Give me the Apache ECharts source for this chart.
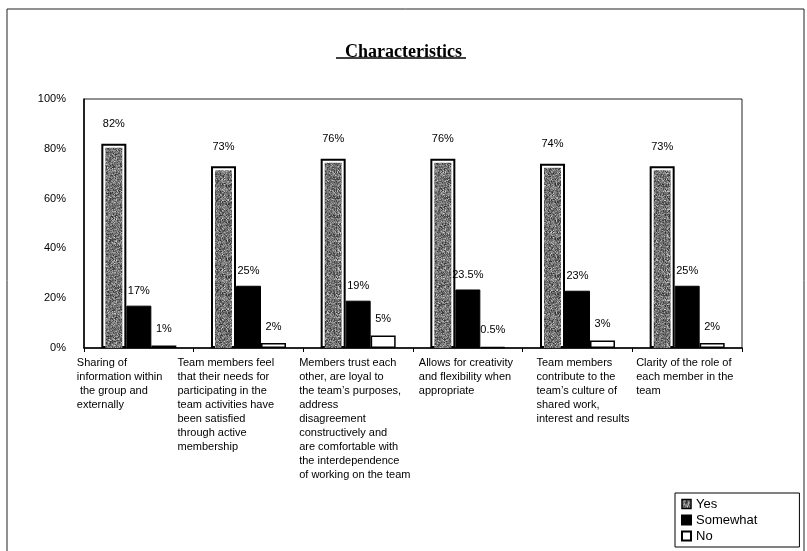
<!DOCTYPE html>
<html>
<head>
<meta charset="utf-8">
<title>Characteristics</title>
<script src="https://cdn.jsdelivr.net/npm/echarts@6/dist/echarts.min.js"></script>
<style>
  html, body { margin: 0; padding: 0; background: #fff; }
  #miGrafica { width: 807px; height: 551px; }
</style>
</head>
<body>
<div id="miGrafica"></div>
<script>
// Datos de la gráfica
var categorias = [
    'Sharing of\ninformation within\n the group and\nexternally',
    'Team members feel\nthat their needs for\nparticipating in the\nteam activities have\nbeen satisfied\nthrough active\nmembership',
    'Members trust each\nother, are loyal to\nthe team\u2019s purposes,\naddress\ndisagreement\nconstructively and\nare comfortable with\nthe interdependence\nof working on the team',
    'Allows for creativity\nand flexibility when\nappropriate',
    'Team members\ncontribute to the\nteam\u2019s culture of\nshared work,\ninterest and results',
    'Clarity of the role of\neach member in the\nteam'
];
var yes = [82, 73, 76, 76, 74, 73];
var somewhat = [17, 25, 19, 23.5, 23, 25];
var no = [1, 2, 5, 0.5, 3, 2];
var ticksY = [0, 20, 40, 60, 80, 100];

// distancia (px) del centro de la categoría al borde izquierdo de su etiqueta
var sangriaEtiqueta = [62, 71, 59, 49, 41, 51];

var fuente = "'Liberation Sans', Arial, sans-serif";

// textura punteada gris para la serie "Yes"
function textura() {
    var c = document.createElement('canvas');
    c.width = 40; c.height = 40;
    var ctx = c.getContext('2d');
    ctx.fillStyle = '#8a8a8a';
    ctx.fillRect(0, 0, 40, 40);
    var s = 12345;
    for (var x = 0; x < 40; x++) {
        for (var y = 0; y < 40; y++) {
            s = (s * 1103515245 + 12345) % 2147483648;
            var r = s / 2147483648;
            if (r < 0.45) {
                ctx.fillStyle = r < 0.2 ? '#2e2e2e' : '#555555';
                ctx.fillRect(x, y, 1, 1);
            } else if (r > 0.88) {
                ctx.fillStyle = '#d4d4d4';
                ctx.fillRect(x, y, 1, 1);
            }
        }
    }
    return c;
}
var patron = { image: textura(), repeat: 'repeat' };

var dom = document.getElementById('miGrafica');
var myChart = echarts.init(dom, null, {
    renderer: 'canvas',
    useDirtyRect: false
});

function etiqueta(dist) {
    return {
        show: true,
        position: 'top',
        distance: dist,
        color: '#000',
        fontSize: 11,
        fontFamily: fuente,
        formatter: function (p) { return p.value + '%'; }
    };
}

var richX = {};
sangriaEtiqueta.forEach(function (w, i) {
    richX['t' + i] = {
        width: w,
        align: 'left',
        fontFamily: fuente,
        fontSize: 11,
        lineHeight: 14,
        color: '#000'
    };
});

var option = {
    backgroundColor: '#fff',
    animation: false,
    title: {
        text: 'Characteristics',
        left: 'center',
        top: 38,
        textStyle: {
            fontFamily: "'Liberation Serif', 'Times New Roman', serif",
            fontWeight: 'bold',
            fontSize: 18,
            color: '#000'
        }
    },
    graphic: [
        {   // marco exterior
            type: 'rect',
            shape: { x: 7, y: 9, width: 797, height: 560 },
            style: { fill: 'none', stroke: '#222', lineWidth: 1 }
        },
        {   // subrayado del título
            type: 'line',
            shape: { x1: 336, y1: 58, x2: 466, y2: 58 },
            style: { stroke: '#000', lineWidth: 1.5 }
        }
    ],
    legend: {
        orient: 'vertical',
        left: 675,
        top: 493,
        data: [
            { name: 'Yes', itemStyle: { color: patron, borderColor: '#000', borderWidth: 1.5 } },
            { name: 'Somewhat' },
            { name: 'No' }
        ],
        icon: 'rect',
        itemWidth: 9,
        itemHeight: 9,
        itemGap: 2,
        padding: [4, 42, 4, 6],
        borderColor: '#000',
        borderWidth: 1,
        textStyle: { fontFamily: fuente, fontSize: 13, lineHeight: 14, color: '#000' }
    },
    grid: {
        left: 84,
        right: 65,
        top: 99,
        bottom: 203,
        show: true,
        borderColor: '#222',
        borderWidth: 1
    },
    xAxis: {
        type: 'category',
        data: categorias,
        axisLine: { lineStyle: { color: '#000', width: 1.5 } },
        axisTick: { show: true, length: 4, interval: 0, lineStyle: { color: '#000' } },
        axisLabel: {
            interval: 0,
            margin: 8,
            align: 'right',
            formatter: function (v, i) { return '{t' + i + '|' + v + '}'; },
            rich: richX
        }
    },
    yAxis: {
        type: 'value',
        min: ticksY[0],
        max: ticksY[ticksY.length - 1],
        interval: ticksY[1] - ticksY[0],
        splitLine: { show: false },
        axisLine: { show: true, lineStyle: { color: '#000', width: 1.5 } },
        axisTick: { show: false },
        axisLabel: {
            margin: 18,
            color: '#000',
            fontFamily: fuente,
            fontSize: 11,
            formatter: '{value}%'
        }
    },
    series: [
        {
            name: 'Yes',
            type: 'bar',
            data: yes,
            barWidth: 25,
            barGap: '0%',
            itemStyle: { color: '#fff', borderColor: '#000', borderWidth: 2 },
            label: etiqueta(14)
        },
        {
            name: 'Somewhat',
            type: 'bar',
            data: somewhat,
            barWidth: 25,
            barGap: '0%',
            itemStyle: { color: '#000', borderColor: '#000', borderWidth: 1 },
            label: etiqueta(9)
        },
        {
            name: 'No',
            type: 'bar',
            data: no,
            barWidth: 25,
            barGap: '0%',
            itemStyle: { color: '#fff', borderColor: '#000', borderWidth: 1.5 },
            label: etiqueta(11)
        },
        {   // relleno punteado dentro de las barras "Yes"
            name: 'YesRelleno',
            type: 'pictorialBar',
            data: yes,
            symbol: 'rect',
            symbolSize: [17, '100%'],
            symbolPosition: 'start',
            symbolOffset: [-25, 4],
            clip: true,
            silent: true,
            z: 3,
            itemStyle: { color: patron }
        }
    ]
};

if (option && typeof option === 'object') {
    myChart.setOption(option);
}

window.addEventListener('resize', myChart.resize);
</script>
</body>
</html>
